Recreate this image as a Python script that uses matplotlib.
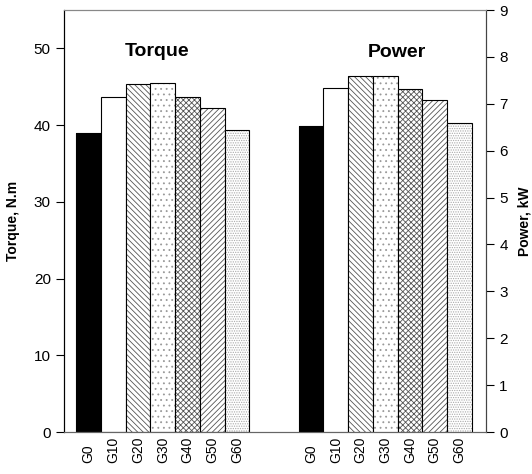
import numpy as np
import matplotlib.pyplot as plt
from matplotlib.transforms import blended_transform_factory

plt.rcParams['font.family'] = ['Liberation Sans', 'DejaVu Sans']
plt.rcParams['hatch.linewidth'] = 0.6

# data
groups = ['G0', 'G10', 'G20', 'G30', 'G40', 'G50', 'G60']
torque = [39.0, 43.7, 45.3, 45.5, 43.6, 42.2, 39.3]
power = [6.52, 7.33, 7.60, 7.60, 7.31, 7.09, 6.58]

# look of each blend
fills = ['black', 'white', 'white', 'white', 'white', 'white', 'white']
hatches = [None, None, '\\\\\\\\\\\\', '...', 'xxxxxx', '//////', '.......']
hatch_cols = ['black', 'black', '#555555', '#999999', '#555555', '#555555', '#aaaaaa']

fig = plt.figure(figsize=(5.32, 4.74), dpi=100)
ax = fig.add_axes([0.1203, 0.0886, 0.7932, 0.8903])
ax2 = ax.twinx()

x_t = np.arange(len(groups)) + 1.0
x_p = np.arange(len(groups)) + 10.0


def draw(axis, xs, vals):
    for i in range(len(vals)):
        axis.bar(xs[i], vals[i], width=1.0, color=fills[i], edgecolor=hatch_cols[i],
                 hatch=hatches[i], linewidth=0)
        axis.bar(xs[i], vals[i], width=1.0, fill=False, edgecolor='black', linewidth=0.8)


draw(ax, x_t, torque)
draw(ax2, x_p, power)

ax.set_xlim(0, 17.08)
ax.set_ylim(0, 55)
ax2.set_ylim(0, 9)
ax.set_yticks([0, 10, 20, 30, 40, 50])
ax2.set_yticks(range(10))

# group labels, bottom-aligned under each bar
ax.set_xticks([])
trans = blended_transform_factory(ax.transData, fig.transFigure)
for xs in (x_t, x_p):
    for x, g in zip(xs, groups):
        ax.text(x, 11 / 474, g, rotation=90, ha='center', va='bottom', transform=trans,
                fontsize=10, family=['Liberation Sans Narrow', 'Liberation Sans'])

ax.tick_params(axis='y', labelsize=11, length=6, width=0.8)
ax2.tick_params(axis='y', labelsize=11, length=6, width=0.8)

ax.set_ylabel('Torque, N.m', fontsize=10, fontweight='bold', labelpad=10)
ax2.set_ylabel('Power, kW', fontsize=10, fontweight='bold', labelpad=7)

for a in (ax, ax2):
    a.spines['top'].set_color('#888888')
    a.spines['bottom'].set_color('#666666')
    a.spines['left'].set_color('black')
    a.spines['right'].set_color('#444444')

ax.text(3.75, 49.6, 'Torque', fontsize=14, fontweight='bold', ha='center', va='center')
ax2.text(13.46, 8.1, 'Power', fontsize=14, fontweight='bold', ha='center', va='center')

fig.savefig('out.png', dpi=100)
